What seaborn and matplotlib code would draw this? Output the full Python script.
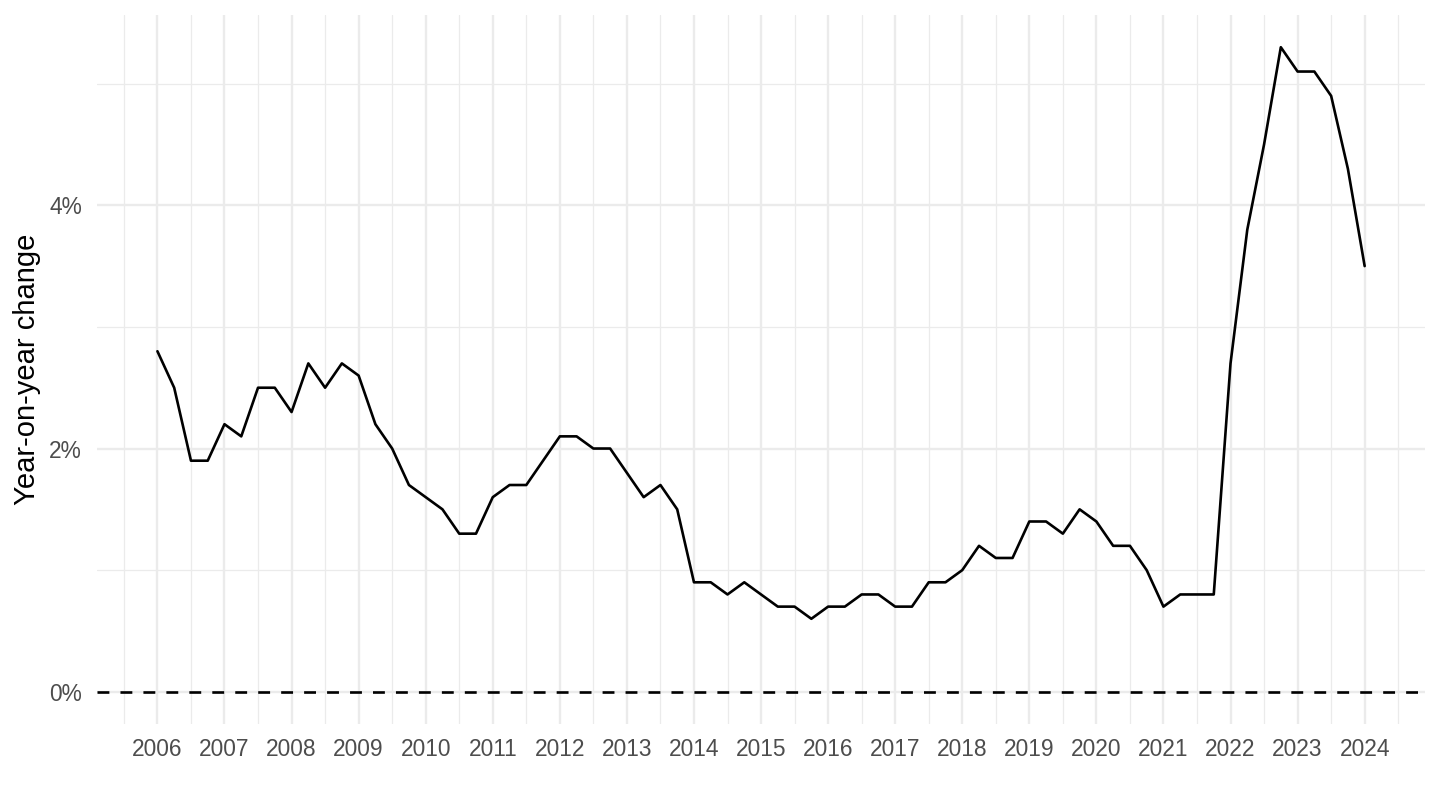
import matplotlib
matplotlib.use("Agg")
import matplotlib.pyplot as plt
from matplotlib.ticker import MultipleLocator, FuncFormatter
import numpy as np
import pandas as pd
import seaborn as sns

# quarterly year-on-year change, %, 2006Q1 .. 2024Q1
quarters = pd.period_range("2006Q1", "2024Q1", freq="Q")
yoy = [
    2.8, 2.5, 1.9, 1.9,   # 2006
    2.2, 2.1, 2.5, 2.5,   # 2007
    2.3, 2.7, 2.5, 2.7,   # 2008
    2.6, 2.2, 2.0, 1.7,   # 2009
    1.6, 1.5, 1.3, 1.3,   # 2010
    1.6, 1.7, 1.7, 1.9,   # 2011
    2.1, 2.1, 2.0, 2.0,   # 2012
    1.8, 1.6, 1.7, 1.5,   # 2013
    0.9, 0.9, 0.8, 0.9,   # 2014
    0.8, 0.7, 0.7, 0.6,   # 2015
    0.7, 0.7, 0.8, 0.8,   # 2016
    0.7, 0.7, 0.9, 0.9,   # 2017
    1.0, 1.2, 1.1, 1.1,   # 2018
    1.4, 1.4, 1.3, 1.5,   # 2019
    1.4, 1.2, 1.2, 1.0,   # 2020
    0.7, 0.8, 0.8, 0.8,   # 2021
    2.7, 3.8, 4.5, 5.3,   # 2022
    5.1, 5.1, 4.9, 4.3,   # 2023
    3.5,                  # 2024
]
year_ticks = list(range(2006, 2025))

df = pd.DataFrame({
    "date": [p.year + (p.quarter - 1) / 4 for p in quarters],
    "value": yoy,
})

sns.set_theme(style="white")
plt.rcParams["font.family"] = ["Liberation Sans", "DejaVu Sans"]

fig = plt.figure(figsize=(14.4, 8.1), dpi=100)
ax = fig.add_axes([0.0674, 0.1062, 0.9222, 0.8753])

grid_col = "#EBEBEB"
ax.set_axisbelow(True)
ax.xaxis.set_major_locator(MultipleLocator(1))
ax.xaxis.set_minor_locator(MultipleLocator(0.5))
ax.yaxis.set_major_locator(MultipleLocator(2))
ax.yaxis.set_minor_locator(MultipleLocator(1))
ax.grid(which="major", color=grid_col, linewidth=1.7)
ax.grid(which="minor", color=grid_col, linewidth=0.9)

ax.axhline(0, color="black", linewidth=1.9, linestyle=(0, (4.5, 4.2)))
sns.lineplot(data=df, x="date", y="value", color="black", linewidth=1.9, ax=ax)

span_x = year_ticks[-1] - year_ticks[0]
ax.set_xlim(year_ticks[0] - 0.05 * span_x, year_ticks[-1] + 0.05 * span_x)
ymax = max(yoy)
ax.set_ylim(-0.05 * ymax, ymax * 1.05)

ax.set_xticks(year_ticks)
ax.set_xticklabels([str(y) for y in year_ticks])
ax.yaxis.set_major_formatter(FuncFormatter(lambda v, _: f"{v:.0f}%"))

ax.tick_params(axis="both", which="both", length=0, labelsize=16.4,
               labelcolor="#4D4D4D")
ax.tick_params(axis="x", pad=10)
ax.tick_params(axis="y", pad=11)
ax.set_xlabel("")
ax.set_ylabel("Year-on-year change", fontsize=21, color="black", labelpad=6)
for s in ax.spines.values():
    s.set_visible(False)

fig.savefig("out.png", dpi=100, facecolor="white")
